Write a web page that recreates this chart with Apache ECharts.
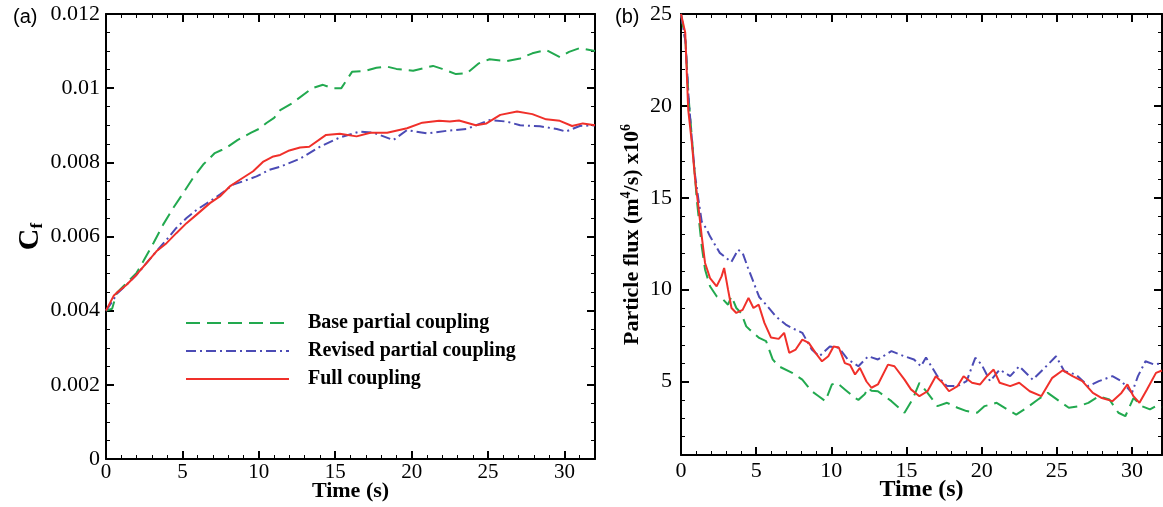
<!DOCTYPE html>
<html><head><meta charset="utf-8">
<script src="https://cdn.jsdelivr.net/npm/echarts@6/dist/echarts.min.js"></script>
<style>html,body{margin:0;padding:0;background:#fff}#c{width:1163px;height:507px}</style>
</head><body><div id="c"></div><script>
// ---------- DATA ----------
const seriesNames = ['Base partial coupling', 'Revised partial coupling', 'Full coupling'];
const timeTicks = [0, 5, 10, 15, 20, 25, 30];
const cfTicks = [0, 0.002, 0.004, 0.006, 0.008, 0.01, 0.012];
const fluxTicks = [5, 10, 15, 20, 25];

// (a) skin friction coefficient Cf
const cfBaseT = [0, 0.4, 0.7, 1.35, 2.0, 2.44, 3.1, 3.74, 4.4, 5.05, 5.7, 6.36, 7.12, 7.6, 8, 8.6, 9.5, 10, 10.5, 11, 11.4, 12.2, 13.5, 14.2, 14.8, 15.4, 16.1, 17.0, 17.7, 18.4, 19.0, 20.1, 21.4, 22.0, 22.9, 23.6, 24.4, 25.1, 26.2, 27.1, 27.9, 28.8, 29.7, 30.3, 31.0, 32];
const cfBaseV = [0.004, 0.00405, 0.00448, 0.00475, 0.00502, 0.00533, 0.00582, 0.00632, 0.00677, 0.00717, 0.00758, 0.00794, 0.00825, 0.00834, 0.00843, 0.0086, 0.0088, 0.0089, 0.00906, 0.0092, 0.00941, 0.0096, 0.0100, 0.01009, 0.0100, 0.0100, 0.01044, 0.01047, 0.01055, 0.01058, 0.01052, 0.01047, 0.0106, 0.01052, 0.01038, 0.0104, 0.01067, 0.01078, 0.01073, 0.0108, 0.01094, 0.01103, 0.01084, 0.01098, 0.01108, 0.0110];
const cfRevT = [0, 0.5, 0.7, 1.35, 2.0, 2.66, 3.3, 3.96, 4.6, 5.27, 5.93, 6.8, 7.45, 8.32, 8.97, 9.85, 10.7, 11.4, 12.7, 14.0, 15.3, 16.6, 17.5, 18.8, 19.7, 21.0, 22.3, 23.6, 25.1, 26.2, 27.1, 28.4, 29.5, 30.1, 31.0, 32];
const cfRevV = [0.004, 0.0043, 0.00445, 0.0047, 0.00497, 0.00529, 0.0056, 0.00591, 0.00623, 0.0065, 0.00672, 0.00695, 0.00713, 0.0074, 0.00749, 0.00762, 0.0078, 0.00788, 0.0081, 0.00842, 0.00867, 0.00883, 0.0088, 0.0086, 0.00887, 0.00878, 0.00885, 0.0089, 0.00914, 0.0091, 0.009, 0.00897, 0.0089, 0.00883, 0.00898, 0.009];
const cfFullT = [0, 0.5, 0.7, 1.35, 2.0, 2.66, 3.3, 3.96, 4.6, 5.27, 5.93, 6.8, 7.45, 8.1, 8.76, 9.63, 10.3, 10.95, 11.4, 12.0, 12.7, 13.3, 14.4, 15.3, 16.4, 17.3, 18.4, 19.7, 20.7, 21.8, 22.5, 23.1, 24.2, 24.9, 25.8, 26.9, 27.9, 28.8, 29.7, 30.5, 31.2, 32];
const cfFullV = [0.004, 0.0044, 0.00448, 0.0047, 0.00497, 0.00529, 0.0056, 0.00582, 0.00609, 0.00636, 0.00659, 0.0069, 0.00708, 0.00735, 0.00753, 0.00776, 0.00802, 0.00816, 0.0082, 0.00832, 0.0084, 0.00842, 0.00874, 0.00877, 0.0087, 0.0088, 0.0088, 0.00892, 0.00907, 0.00912, 0.0091, 0.00913, 0.009, 0.00905, 0.00928, 0.00937, 0.0093, 0.00916, 0.00912, 0.00898, 0.00905, 0.0090];

// (b) particle flux (x1e6 m^4/s)
const fxBaseT = [0, 0.3, 0.5, 0.75, 1.05, 1.38, 1.6, 1.93, 2.37, 2.8, 3.13, 3.36, 3.68, 4.0, 4.34, 4.56, 5.2, 5.66, 6.1, 6.5, 7.4, 8.07, 8.7, 9.16, 9.6, 10.04, 10.37, 10.9, 11.58, 11.8, 12.22, 12.45, 12.67, 13.1, 14.0, 14.87, 15.4, 15.86, 16.4, 17.06, 17.7, 18.4, 19.0, 19.7, 20.2, 21.0, 21.7, 22.3, 23.0, 23.75, 24.4, 25.17, 25.8, 26.5, 27.1, 27.8, 28.5, 29.1, 29.56, 30.1, 30.66, 31.2, 31.6, 32];
const fxBaseV = [25, 23.5, 20.5, 18, 14.9, 12.35, 11.1, 10.18, 9.64, 9.46, 9.18, 9.64, 9.0, 8.73, 8.0, 7.83, 7.37, 7.2, 6.2, 5.83, 5.47, 5.1, 4.47, 4.2, 3.93, 4.84, 4.93, 4.57, 4.1, 4.0, 4.3, 4.66, 4.5, 4.47, 3.93, 3.3, 4.02, 4.93, 4.38, 3.66, 3.84, 3.57, 3.39, 3.3, 3.66, 3.84, 3.48, 3.2, 3.57, 4.02, 4.38, 3.93, 3.57, 3.66, 3.84, 4.2, 4.02, 3.3, 3.11, 4.1, 3.66, 3.48, 3.66, 3.6];
const fxRevT = [0, 0.3, 0.5, 0.72, 0.94, 1.16, 1.38, 1.7, 1.93, 2.58, 2.9, 3.35, 3.8, 4.1, 4.45, 4.78, 5.2, 5.66, 6.3, 6.97, 7.4, 8.07, 8.7, 9.2, 9.9, 10.5, 11.1, 11.8, 12.45, 13.1, 14.0, 14.87, 15.5, 15.96, 16.3, 17.06, 17.7, 18.4, 19.0, 19.58, 20.0, 20.56, 21.2, 21.9, 22.5, 23.4, 24.3, 24.95, 25.5, 26.27, 27.1, 27.8, 28.7, 29.3, 30.0, 30.4, 30.9, 31.5, 32];
const fxRevV = [25, 23.5, 20.5, 18.2, 16.2, 14.9, 13.7, 13.3, 12.9, 12.0, 11.8, 11.5, 12.17, 12.0, 11.2, 10.5, 9.6, 9.18, 8.55, 8.1, 7.9, 7.65, 6.74, 6.37, 6.9, 6.83, 6.2, 5.83, 6.37, 6.2, 6.65, 6.37, 6.2, 5.83, 6.3, 5.29, 4.75, 4.75, 5.02, 6.29, 5.92, 5.02, 5.65, 5.29, 5.83, 5.1, 5.83, 6.37, 5.56, 5.38, 4.75, 5.02, 5.29, 5.02, 4.38, 5.29, 6.1, 5.92, 6.0];
const fxFullT = [0, 0.28, 0.48, 0.72, 0.94, 1.16, 1.38, 1.6, 1.93, 2.37, 2.7, 2.87, 3.13, 3.36, 3.68, 4.1, 4.49, 4.82, 5.17, 5.55, 5.99, 6.5, 6.86, 7.2, 7.63, 8.07, 8.5, 8.95, 9.38, 9.8, 10.15, 10.5, 10.9, 11.25, 11.58, 11.9, 12.34, 12.67, 13.1, 13.77, 14.2, 14.87, 15.3, 15.86, 16.4, 16.95, 17.4, 17.83, 18.4, 18.8, 19.36, 19.9, 20.35, 20.8, 21.2, 21.9, 22.5, 23.2, 23.97, 24.7, 25.4, 26.05, 26.7, 27.4, 28.0, 28.7, 29.3, 29.7, 30.1, 30.5, 31.0, 31.6, 32];
const fxFullV = [25, 24, 19.8, 18, 16, 14.5, 12.9, 11.45, 10.63, 10.18, 10.72, 11.18, 10.0, 9.0, 8.73, 8.9, 9.55, 9.0, 9.18, 8.19, 7.39, 7.32, 7.65, 6.56, 6.74, 7.28, 7.1, 6.56, 6.1, 6.37, 6.9, 6.85, 6.0, 5.9, 5.38, 5.74, 5.0, 4.66, 4.84, 5.92, 5.83, 5.1, 4.57, 4.2, 4.47, 5.29, 4.93, 4.47, 4.75, 5.29, 4.93, 4.84, 5.29, 5.65, 4.93, 4.75, 4.93, 4.47, 4.2, 5.2, 5.61, 5.29, 5.02, 4.38, 4.1, 3.93, 4.38, 4.84, 4.2, 3.84, 4.57, 5.47, 5.6];

// ---------- STYLE ----------
const SERIF = '"Liberation Serif", "Times New Roman", serif';
const SANS = '"Liberation Sans", Arial, sans-serif';
const COLORS = ['#22a94f', '#4b4bb5', '#f0302a'];
const DASHES = [[14, 7], [10, 4, 2, 4], 'solid'];
const zip = (a, b) => a.map((v, i) => [v, b[i]]);

function axisSet(grid, min, max, major, minorInt, pos, opp, extra) {
  const common = { type: 'value', gridIndex: grid, min: min, max: max, splitLine: { show: false } };
  const line = { show: true, onZero: false, lineStyle: { color: '#000', width: 2 } };
  const majTick = { show: true, inside: true, length: 8, customValues: major, lineStyle: { color: '#000', width: 2 } };
  const minTick = { show: true, inside: true, length: 4, lineStyle: { color: '#000', width: 1 } };
  return [
    Object.assign({}, common, { position: pos, axisLine: line, axisTick: majTick }, extra),
    Object.assign({}, common, { position: pos, interval: minorInt, axisLine: { show: false, onZero: false }, axisTick: minTick, axisLabel: { show: false } }),
    Object.assign({}, common, { position: opp, axisLine: line, axisTick: majTick, axisLabel: { show: false } }),
    Object.assign({}, common, { position: opp, interval: minorInt, axisLine: { show: false, onZero: false }, axisTick: minTick, axisLabel: { show: false } })
  ];
}

const xAxes = [].concat(
  axisSet(0, 0, 32, timeTicks, 1, 'bottom', 'top', {
    axisLabel: { show: true, customValues: timeTicks, color: '#000', fontFamily: SERIF, fontSize: 21, margin: 3 },
    name: 'Time (s)', nameLocation: 'middle', nameGap: 21, nameMoveOverlap: false,
    nameTextStyle: { color: '#000', fontFamily: SERIF, fontWeight: 'bold', fontSize: 22, verticalAlign: 'top' }
  }),
  axisSet(1, 0, 32, timeTicks, 1, 'bottom', 'top', {
    axisLabel: { show: true, customValues: timeTicks, color: '#000', fontFamily: SERIF, fontSize: 22, margin: 5 },
    name: 'Time (s)', nameLocation: 'middle', nameGap: 23, nameMoveOverlap: false,
    nameTextStyle: { color: '#000', fontFamily: SERIF, fontWeight: 'bold', fontSize: 24, verticalAlign: 'top' }
  })
);
const yAxes = [].concat(
  axisSet(0, 0, 0.012, cfTicks, 0.0005, 'left', 'right', {
    axisLabel: { show: true, customValues: cfTicks, color: '#000', fontFamily: SERIF, fontSize: 22, margin: 6 },
    name: '{c|C}{f|f}', nameLocation: 'middle', nameGap: 60,
    nameTextStyle: { rich: {
      c: { fontFamily: SERIF, fontWeight: 'bold', fontSize: 30, lineHeight: 32, color: '#000' },
      f: { fontFamily: SERIF, fontWeight: 'bold', fontSize: 17, lineHeight: 12, color: '#000', verticalAlign: 'bottom' }
    } }
  }),
  axisSet(1, 1, 25, fluxTicks, 1, 'left', 'right', {
    axisLabel: { show: true, customValues: fluxTicks, color: '#000', fontFamily: SERIF, fontSize: 22, margin: 9 },
    name: '{t|Particle flux (m}{s|4}{t|/s) x10}{s|6}', nameLocation: 'middle', nameGap: 35,
    nameTextStyle: { rich: {
      t: { fontFamily: SERIF, fontWeight: 'bold', fontSize: 22, lineHeight: 27, color: '#000' },
      s: { fontFamily: SERIF, fontWeight: 'bold', fontSize: 14, lineHeight: 14, color: '#000', verticalAlign: 'top' }
    } }
  })
);

function mk(i, grid, t, v) {
  return {
    type: 'line', name: seriesNames[i], xAxisIndex: grid * 4, yAxisIndex: grid * 4,
    data: zip(t, v), symbol: 'none', showSymbol: false, smooth: false, clip: true,
    lineStyle: { color: COLORS[i], width: 2, type: DASHES[i] }, itemStyle: { color: COLORS[i] }, z: 3
  };
}

const option = {
  animation: false,
  backgroundColor: '#fff',
  title: [
    { text: '(a)', left: 8, top: 2, textStyle: { fontFamily: SANS, fontWeight: 'normal', fontSize: 20, color: '#000' } },
    { text: '(b)', left: 610, top: 2, textStyle: { fontFamily: SANS, fontWeight: 'normal', fontSize: 20, color: '#000' } }
  ],
  grid: [
    { left: 106, top: 14, width: 489, height: 445, containLabel: false, outerBoundsMode: 'none' },
    { left: 681, top: 14, width: 481, height: 441, containLabel: false, outerBoundsMode: 'none' }
  ],
  legend: {
    data: seriesNames, orient: 'vertical', left: 185, top: 313, padding: 0,
    itemWidth: 103, itemHeight: 14, itemGap: 8,
    itemStyle: { opacity: 0 },
    textStyle: { fontFamily: SERIF, fontWeight: 'bold', fontSize: 20, color: '#000', padding: [0, 0, 0, 14] }
  },
  xAxis: xAxes,
  yAxis: yAxes,
  series: [
    mk(0, 0, cfBaseT, cfBaseV), mk(1, 0, cfRevT, cfRevV), mk(2, 0, cfFullT, cfFullV),
    mk(0, 1, fxBaseT, fxBaseV), mk(1, 1, fxRevT, fxRevV), mk(2, 1, fxFullT, fxFullV)
  ]
};
const chart = echarts.init(document.getElementById('c'), null, { renderer: 'canvas' });
chart.setOption(option);
</script></body></html>
